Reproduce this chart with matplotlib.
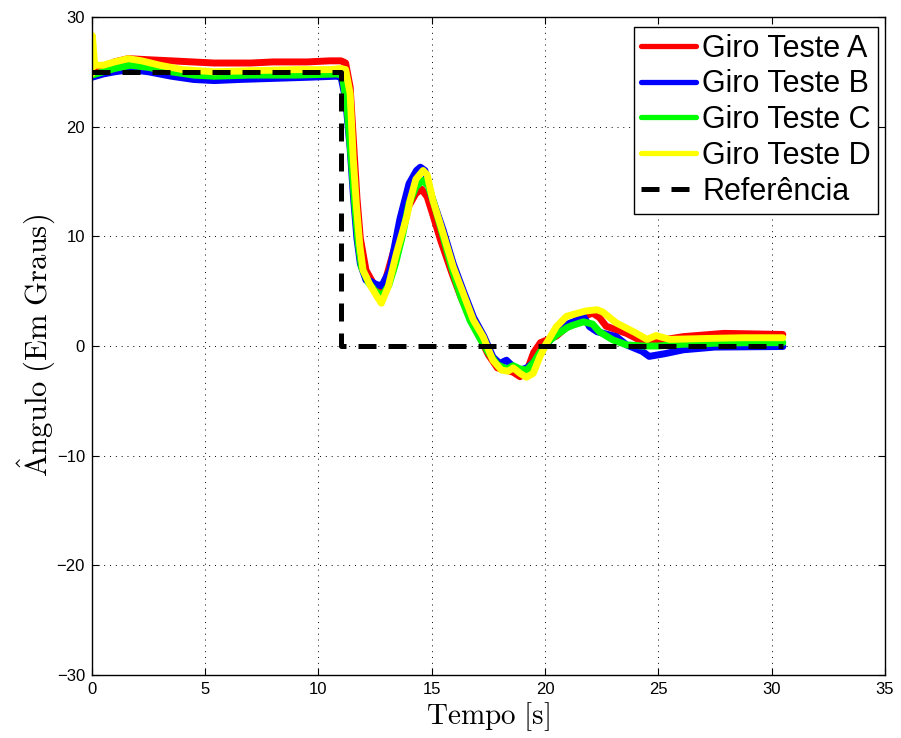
import matplotlib
matplotlib.use("Agg")
import matplotlib.pyplot as plt

plt.rcParams["mathtext.fontset"] = "cm"

# Gyro test runs: time [s] and angle [deg]
t_a = [0, 0.3, 1.0, 1.6, 2.5, 3.5, 5.4, 7.0, 8.0, 9.5, 10.5, 11.0, 11.2, 11.4, 11.55, 11.7, 11.85,
       12.1, 12.4, 12.7, 13.0, 13.3, 13.6, 14.0, 14.3, 14.55, 14.8, 15.0, 15.4, 15.9, 16.3, 16.7,
       17.1, 17.5, 17.9, 18.3, 18.6, 18.9, 19.2, 19.5, 19.8, 20.1, 20.5, 21.0, 21.5, 22.1, 22.4,
       22.7, 23.6, 24.3, 24.6, 25.2, 26.1, 27.9, 30.5]
y_a = [24.9, 25.3, 25.9, 26.2, 26.1, 26.0, 25.8, 25.8, 25.9, 25.9, 26.0, 26.0, 25.8, 23.6, 18.5,
       13.5, 9.8, 6.9, 5.8, 4.8, 6.3, 8.5, 10.2, 12.8, 13.9, 14.3, 13.6, 12.3, 9.6, 6.6, 4.4, 2.5,
       0.9, -0.8, -2.0, -2.2, -2.4, -2.8, -2.3, -0.6, 0.3, 0.55, 0.9, 1.8, 2.5, 3.0, 2.6,
       1.8, 1.15, 0.4, 0.1, 0.55, 0.85, 1.15, 1.05]

t_b = [0, 0.5, 1.0, 1.7, 2.5, 3.5, 4.5, 5.4, 6.5, 8.0, 9.5, 10.8, 11.0, 11.2, 11.4, 11.55, 11.7,
       11.85, 12.1, 12.3, 12.56, 12.8, 13.15, 13.6, 14.0, 14.33, 14.5, 14.7, 15.0, 15.5, 15.95,
       16.4, 16.85, 17.3, 17.7, 18.0, 18.3, 18.6, 18.9, 19.2, 19.5, 19.8, 20.1, 20.5, 21.0, 21.5,
       21.7, 21.97, 22.3, 23.15, 23.6, 24.3, 24.6, 25.3, 26.1, 27.5, 30.5]
y_b = [24.5, 24.8, 25.0, 25.2, 25.0, 24.6, 24.3, 24.2, 24.3, 24.4, 24.5, 24.6, 24.5, 22.5, 18.0,
       13.5, 9.8, 7.5, 6.0, 5.9, 5.6, 5.5, 6.9, 11.6, 14.8, 16.0, 16.3, 16.0, 13.6, 10.6, 7.5,
       5.0, 2.6, 0.9, -1.0, -1.6, -1.3, -1.9, -2.2, -2.0, -1.5, -0.6, 0.2, 1.2, 2.0, 2.4,
       2.7, 1.75, 1.3, 0.85, 0.1, -0.5, -0.95, -0.7, -0.35, -0.1, -0.05]

t_c = [0, 0.5, 1.0, 1.7, 2.5, 3.5, 4.5, 5.4, 7.0, 9.0, 10.8, 11.05, 11.25, 11.45, 11.6, 11.75,
       11.9, 12.2, 12.5, 12.8, 13.1, 13.4, 13.7, 14.0, 14.3, 14.6, 14.85, 15.1, 15.5, 15.9, 16.3,
       16.7, 17.1, 17.5, 17.9, 18.3, 18.6, 18.9, 19.2, 19.5, 19.8, 20.1, 20.5, 21.0, 21.24, 21.7,
       22.1, 22.4, 23.0, 23.6, 24.3, 25.0, 26.0, 27.5, 29.0, 30.5]
y_c = [24.7, 25.0, 25.3, 25.6, 25.4, 25.0, 24.7, 24.6, 24.7, 24.7, 24.8, 24.7, 22.0, 17.0, 13.0,
       9.5, 7.2, 5.8, 5.0, 4.6, 5.5, 7.5, 10.0, 13.0, 14.5, 15.1, 14.6, 13.0, 10.0, 7.0, 4.4,
       2.3, 0.8, -0.6, -1.7, -2.1, -1.8, -2.1, -2.2, -1.5, -0.5, 0.3, 1.0, 1.7, 1.9, 2.2,
       2.0, 1.3, 0.55, 0.1, 0.0, 0.0, 0.15, 0.25, 0.3, 0.3]

t_d = [0, 0.02, 0.12, 0.5, 1.0, 1.6, 2.2, 3.0, 4.0, 5.4, 7.0, 9.0, 10.5, 11.0, 11.2, 11.4, 11.53,
       11.68, 11.83, 11.97, 12.27, 12.56, 12.78, 13.08, 13.45, 13.9, 14.05, 14.3, 14.62, 14.8,
       15.05, 15.5, 15.95, 16.39, 16.83, 17.27, 17.7, 18.08, 18.37, 18.6, 18.9, 19.18, 19.48,
       19.77, 20.07, 20.5, 20.95, 21.46, 21.83, 22.3, 22.55, 23.15, 24.0, 24.5, 24.9, 25.5,
       26.5, 27.5, 28.75, 30.5]
y_d = [24.8, 28.3, 25.6, 25.6, 25.9, 26.2, 26.0, 25.6, 25.2, 25.0, 25.1, 25.2, 25.2, 25.3, 25.2,
       23.0, 17.3, 12.7, 9.1, 6.9, 5.6, 4.6, 3.9, 5.4, 8.5, 11.8, 13.3, 15.2, 16.0, 15.6,
       13.3, 10.3, 7.2, 4.8, 2.4, 0.85, -1.3, -2.2, -2.3, -2.0, -2.5, -2.85, -2.5,
       -1.0, 0.25, 1.75, 2.7, 3.0, 3.2, 3.3, 3.1, 2.1, 1.2, 0.6, 0.95, 0.6,
       0.65, 0.7, 0.75, 0.75]

# Reference step
t_ref = [0, 11, 11, 30.5]
y_ref = [25, 25, 0, 0]

labels = ["Giro Teste A", "Giro Teste B", "Giro Teste C", "Giro Teste D", "Referência"]
colors = ["#ff0000", "#0000ff", "#00ff00", "#ffff00"]

xticks = [0, 5, 10, 15, 20, 25, 30, 35]
yticks = [-30, -20, -10, 0, 10, 20, 30]

fig = plt.figure(figsize=(9.01, 7.38), dpi=100)
ax = fig.add_axes([0.102, 0.0854, 0.880, 0.8916])

series = [(t_a, y_a), (t_b, y_b), (t_c, y_c), (t_d, y_d)]
for (tt, yy), c, lab in zip(series, colors, labels[:4]):
    ax.plot(tt, yy, color=c, lw=5.0, label=lab, solid_joinstyle="round", solid_capstyle="round")
ax.plot(t_ref, y_ref, color="black", lw=3.6, dashes=(3.6, 2.4), label=labels[4])

ax.set_xlim(0, 35)
ax.set_ylim(-30, 30)
ax.set_xticks(xticks)
ax.set_yticks(yticks)
ax.set_xticklabels([str(v) for v in xticks], family="Liberation Sans", fontsize=12)
ax.set_yticklabels([str(v).replace("-", "\u2212") for v in yticks], family="Liberation Sans", fontsize=12)
ax.tick_params(direction="in", top=True, right=True, length=5, width=0.8, pad=5)
ax.grid(True, color="black", linestyle=(0, (1, 5)), linewidth=0.7)
for s in ax.spines.values():
    s.set_linewidth(1.0)

ax.set_xlabel(r"$\mathrm{Tempo\ [s]}$", fontsize=21, labelpad=2)
ax.set_ylabel(r"$\mathrm{\hat{A}ngulo\ (Em\ Graus)}$", fontsize=22, labelpad=-1)

leg = ax.legend(loc="upper right", bbox_to_anchor=(0.991, 0.985), borderaxespad=0,
                prop=dict(family="Liberation Sans", size=22), handlelength=1.8,
                handletextpad=0.2, labelspacing=0.19, borderpad=0.22, fancybox=False,
                framealpha=1, edgecolor="black")
leg.get_frame().set_linewidth(1.0)
for h in leg.get_lines()[:4]:
    h.set_linewidth(3.8)

fig.savefig("out.png", dpi=100)
